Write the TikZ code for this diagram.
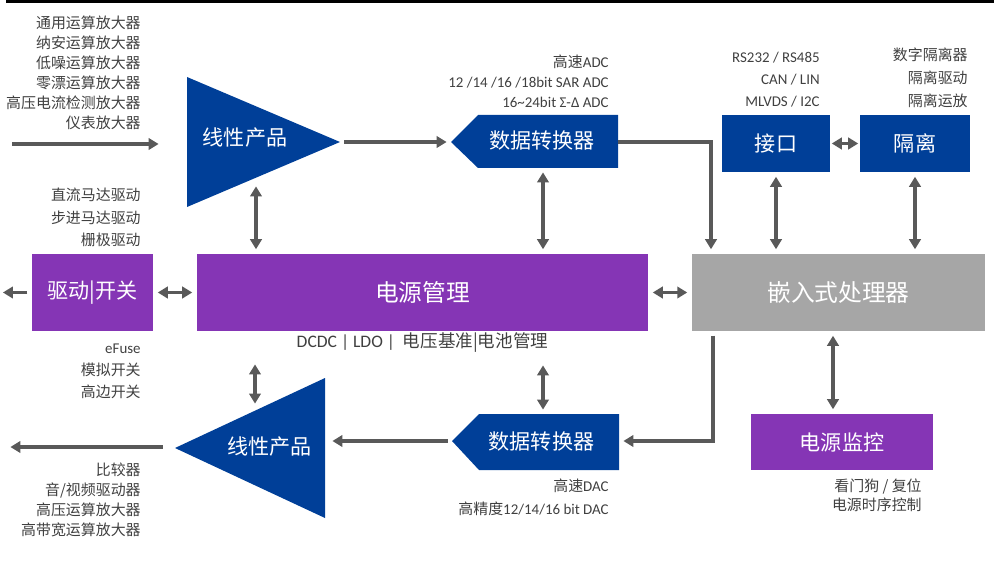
\documentclass[tikz,border=0pt]{standalone}
\usepackage{fontspec}
\setmainfont{Carlito}
\newfontfamily\cjk{Noto Sans CJK SC}
\usepackage{tikz}
\usetikzlibrary{arrows.meta}
\definecolor{tiblue}{HTML}{003F98}
\definecolor{tipurple}{HTML}{8535B5}
\definecolor{tigray}{HTML}{A6A6A6}
\definecolor{linegray}{HTML}{595959}
\definecolor{notegray}{HTML}{404040}
\newcommand\zh[1]{{\cjk #1}}
\def\unitpx{0.02cm}

\begin{document}
\begin{tikzpicture}[x=0.02cm, y=-0.02cm,
    box/.style={fill=#1, text=white, inner sep=0pt, font=\fontsize{12}{14}\selectfont\cjk},
    bigbox/.style={box=#1, font=\fontsize{13.5}{16}\selectfont\cjk},
    lbl/.style={text=white, inner sep=0pt, font=\fontsize{12}{14}\selectfont\cjk},
    note/.style={text=notegray, anchor=east, align=right, inner sep=0pt, font=\fontsize{8.5}{#1}\selectfont},
    note/.default=11.4pt,
    cnote/.style={note=#1, font=\fontsize{8.5}{#1}\selectfont\cjk},
    cnote/.default=11.4pt,
    arr/.style={draw=linegray, line width=1.8pt, shorten <=2.5pt, shorten >=2.5pt,
        -{Triangle[length=5.7pt,width=6.5pt]}},
    dbl/.style={arr, {Triangle[length=5.7pt,width=6.5pt]}-{Triangle[length=5.7pt,width=6.5pt]}}]
    \useasboundingbox (0,0) rectangle (1000,567);
    \draw[line width=1.6pt] (6,1.5) -- (994,1.5);

    \fill[tiblue] (187,77) -- (340,142) -- (187,207) -- cycle;
    \node[lbl] (lin1) at (245,138) {线性产品};
    \fill[tiblue] (175,448) -- (325,378) -- (325,518) -- cycle;
    \node[lbl] (lin2) at (269.5,447) {线性产品};
    \fill[tiblue] (451,142) -- (478,115) -- (618,115) -- (618,168) -- (478,168) -- cycle;
    \node[lbl] (adc) at (542,141) {数据转换器};
    \fill[tiblue] (452,441) -- (479,414) -- (619,414) -- (619,470) -- (479,470) -- cycle;
    \node[lbl] (dac) at (541.5,441) {数据转换器};

    \node[box=tipurple, minimum width=121*\unitpx, minimum height=77*\unitpx] (drv) at (92.5,292.5) {驱动|开关};
    \node[bigbox=tipurple, minimum width=451*\unitpx, minimum height=77*\unitpx] (pm) at (422.5,292.5) {电源管理};
    \node[bigbox=tigray, minimum width=293*\unitpx, minimum height=77*\unitpx] (cpu) at (838.5,292.5) {嵌入式处理器};
    \node[box=tiblue, minimum width=108*\unitpx, minimum height=57*\unitpx] (ifc) at (776,143.5) {接口};
    \node[box=tiblue, minimum width=110*\unitpx, minimum height=57*\unitpx] (iso) at (915,143.5) {隔离};
    \node[box=tipurple, minimum width=182*\unitpx, minimum height=56*\unitpx] (mon) at (842,442) {电源监控};

    \coordinate (inL) at (8,144);
    \coordinate (inR) at (163,144);
    \coordinate (lin1tip) at (340,142);
    \coordinate (lin1low) at (256,182);
    \coordinate (lin2tip) at (175,447);
    \coordinate (lin2E) at (328,441);
    \coordinate (lin2top) at (255,408);
    \coordinate (outL) at (6,447);
    \coordinate (drvout) at (-1.5,292.5);
    \coordinate (adcW) at (451,142);
    \coordinate (adcE) at (618,142);
    \coordinate (adcS) at (543,168);
    \coordinate (dacW) at (452,441);
    \coordinate (dacE) at (619,441);
    \coordinate (dacN) at (543,414);
    \coordinate (pmA) at (255,360);
    \coordinate (pmB) at (543,361);
    \coordinate (elbowA) at (711,0);
    \coordinate (elbowB) at (713,0);
    \coordinate (monx) at (833,0);

    \draw[arr] (inL) -- (inR);
    \draw[arr] (lin1tip) -- (adcW);
    \draw[arr, shorten <=0pt] (adcE) -| (cpu.north -| elbowA);
    \draw[dbl, shorten <=0.8pt, shorten >=0.8pt] (ifc.east) -- (iso.west);
    \draw[dbl] (ifc.south) -- (ifc.south |- cpu.north);
    \draw[dbl] (iso.south) -- (iso.south |- cpu.north);
    \draw[dbl] (adcS) -- (adcS |- pm.north);
    \draw[dbl] (lin1low) -- (lin1low |- pm.north);
    \draw[dbl] (drv.east) -- (pm.west);
    \draw[arr] (drv.west) -- (drvout);
    \draw[dbl] (pm.east) -- (cpu.west);
    \draw[dbl] (pmA) -- (lin2top);
    \draw[dbl] (pmB) -- (dacN);
    \draw[arr, shorten <=7pt] (lin2tip) -- (outL);
    \draw[arr] (dacW) -- (lin2E);
    \draw[arr] (cpu.south -| elbowB) |- (dacE);
    \draw[dbl] (cpu.south -| monx) -- (mon.north -| monx);

    \node[cnote] (ampnote) at (141,72.5) {通用运算放大器\\纳安运算放大器\\低噪运算放大器\\零漂运算放大器\\高压电流检测放大器\\仪表放大器};
    \node[note] (adcnote) at (609,81) {\zh{高速}ADC\\12 /14 /16 /18bit SAR ADC\\16\textasciitilde 24bit Σ-Δ ADC};
    \node[note=12.5pt] (ifcnote) at (820,80) {RS232 / RS485\\CAN / LIN\\MLVDS / I2C};
    \node[cnote=13pt] (isonote) at (968,78) {数字隔离器\\隔离驱动\\隔离运放};
    \node[cnote=12.8pt] (drvnote) at (141,217.5) {直流马达驱动\\步进马达驱动\\栅极驱动};
    \node[note=12.5pt] (swnote) at (141,371) {eFuse\\\zh{模拟开关}\\\zh{高边开关}};
    \node[cnote] (outnote) at (141,500) {比较器\\音/视频驱动器\\高压运算放大器\\高带宽运算放大器};
    \node[note=13pt] (dacnote) at (609,497.5) {\zh{高速}DAC\\\zh{高精度}12/14/16 bit DAC};
    \node[cnote=11pt] (monnote) at (922,495.5) {看门狗 / 复位\\电源时序控制};
    \node[text=notegray, inner sep=0pt, font=\fontsize{10}{12}\selectfont] (pmnote) at (422.5,343) {DCDC | LDO |\ \ \zh{电压基准|电池管理}};
\end{tikzpicture}
\end{document}
